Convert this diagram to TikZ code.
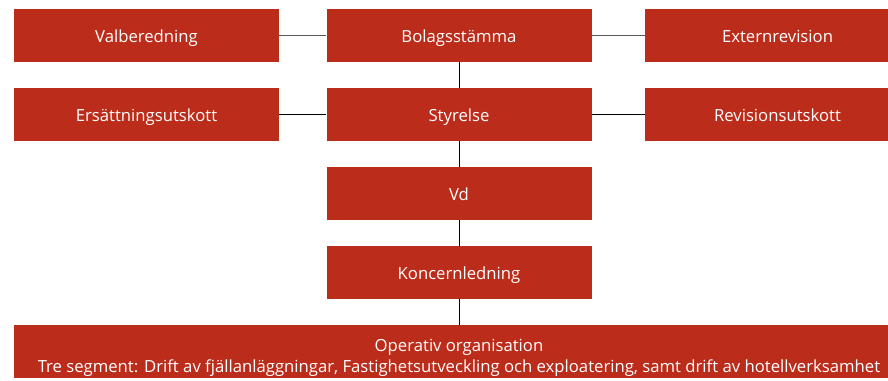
\documentclass[tikz,border=0pt]{standalone}
\usepackage{fontspec}
\setmainfont{Open Sans}
\usepackage{tikz}
\usetikzlibrary{shapes,arrows}
\definecolor{boxred}{RGB}{188,44,26}
\tikzstyle{line} = [draw, line width=1pt]
\tikzstyle{topline} = [draw, line width=1.2pt, gray!70!black]
\tikzstyle{block} = [fill=boxred, text=white, rectangle, text centered, minimum width=265pt, minimum height=53pt, inner sep=0pt, text height=16pt, text depth=2pt, font=\fontsize{16.7}{21}\selectfont]

\begin{document}
\begin{tikzpicture}[x=1pt, y=1pt, node distance=79pt]
        \useasboundingbox (0,0) rectangle (888,-380);
        \node[block] (stamma) at (459,-35.5) {Bolagsstämma};
        \node[block, below of=stamma] (styrelse) {Styrelse};
        \node[block, below of=styrelse] (vd) {Vd};
        \node[block, below of=vd] (koncern) {Koncernledning};
        \node[block, below of=koncern, minimum width=890pt, align=center, text height=43pt, text depth=2pt] (operativ) {Operativ organisation\\Tre segment: Drift av fjällanläggningar, Fastighetsutveckling och exploatering, samt drift av hotellverksamhet};
        \node[block, left of=stamma, node distance=312.5pt] (valb) {Valberedning};
        \node[block, right of=stamma, node distance=318.5pt] (extern) {Externrevision};
        \node[block, left of=styrelse, node distance=312.5pt] (ersatt) {Ersättningsutskott};
        \node[block, right of=styrelse, node distance=318.5pt] (revutsk) {Revisionsutskott};
        \path[topline] (valb) -- (stamma);
        \path[topline] (stamma) -- (extern);
        \path[line] (ersatt) -- (styrelse);
        \path[line] (styrelse) -- (revutsk);
        \path[line] (stamma) -- (styrelse);
        \path[line] (styrelse) -- (vd);
        \path[line] (vd) -- (koncern);
        \path[line] (koncern) -- (operativ);
    \end{tikzpicture}
\end{document}
